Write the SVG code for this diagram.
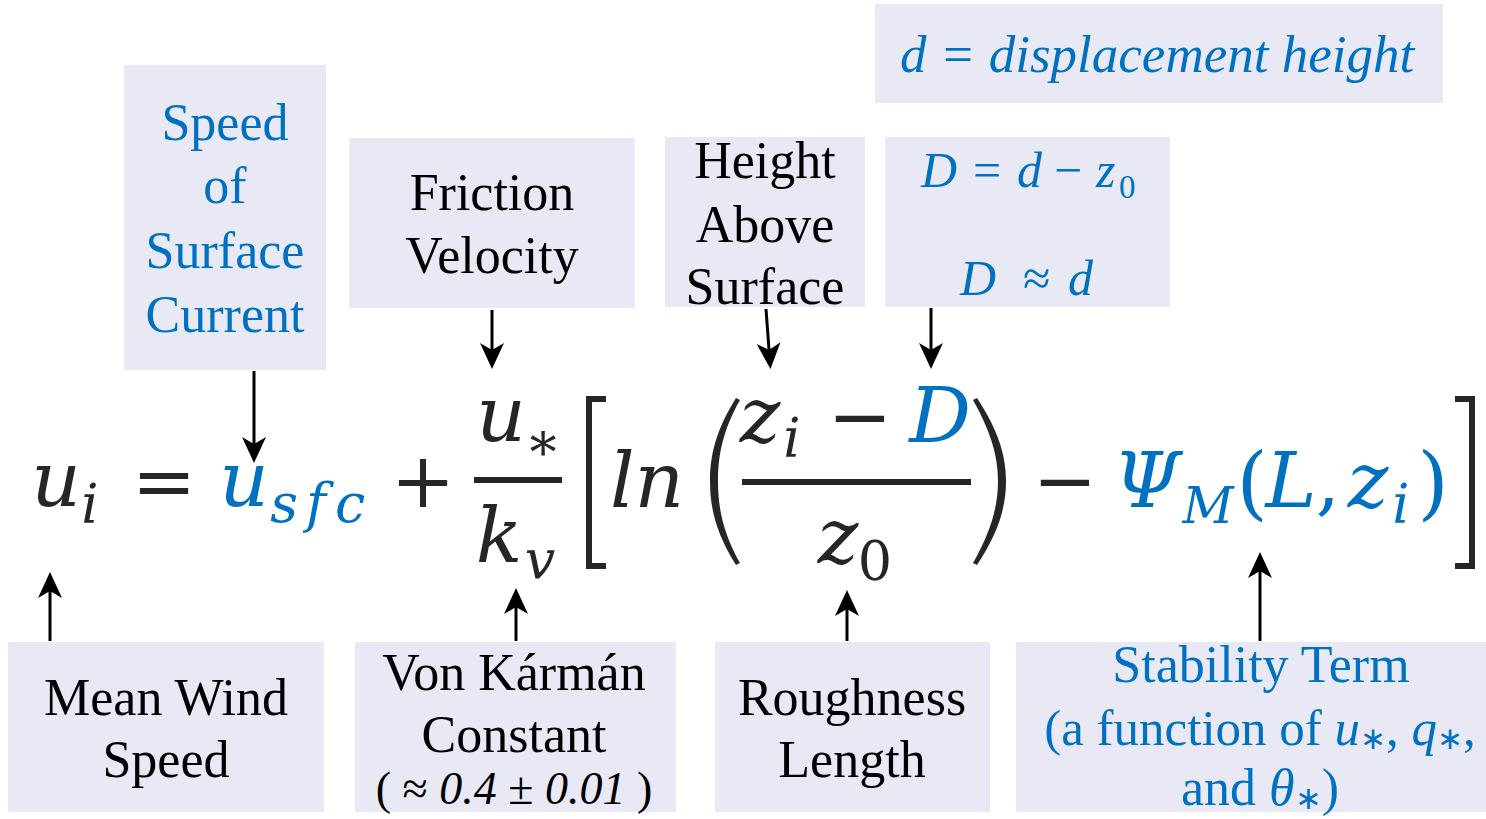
<svg xmlns="http://www.w3.org/2000/svg" width="1486" height="819" viewBox="0 0 1486 819">
<defs>
<style>
.box{fill:#E9E9F6}
.lbl{font-family:'Liberation Serif','Times New Roman',serif;font-size:52px;text-anchor:middle}
.blk{fill:#000}
.blu{fill:#0070C0}
.it{font-style:italic}
.m{font-family:'DejaVu Serif',serif;font-style:italic;font-size:77px;text-anchor:middle;fill:#262626}
.ms{font-size:54px}
.up{font-style:normal}
.mb{fill:#0070C0}
.conn line{stroke:#000;stroke-width:3;marker-end:url(#ah)}
.frac{fill:#262626}
</style>
<marker id="ah" markerUnits="userSpaceOnUse" markerWidth="26" markerHeight="24" refX="20" refY="12" orient="auto">
<path d="M0,0 L26,12 L0,24 L7,12 Z" fill="#000"/>
</marker>
</defs>
<rect width="1486" height="819" fill="#fff"/>

<g id="node-speed-surface-current">
<rect class="box" x="124" y="65" width="202" height="305"/>
<text class="lbl blu" x="225" y="140">Speed</text>
<text class="lbl blu" x="225" y="203">of</text>
<text class="lbl blu" x="225" y="268">Surface</text>
<text class="lbl blu" x="225" y="332">Current</text>
</g>

<g id="node-friction-velocity">
<rect class="box" x="349" y="138" width="286" height="170"/>
<text class="lbl blk" x="492" y="210">Friction</text>
<text class="lbl blk" x="492" y="273">Velocity</text>
</g>

<g id="node-height-above-surface">
<rect class="box" x="665" y="137" width="200" height="170"/>
<text class="lbl blk" x="765" y="178">Height</text>
<text class="lbl blk" x="765" y="242">Above</text>
<text class="lbl blk" x="765" y="304">Surface</text>
</g>

<g id="node-displacement-height">
<rect class="box" x="875" y="4" width="568" height="99"/>
<text class="lbl blu it" x="900" y="72" style="text-anchor:start;font-size:53px">d = displacement height</text>
</g>

<g id="node-D">
<rect class="box" x="885" y="137" width="285" height="170"/>
<g class="blu it" style="font-family:'Liberation Serif','Times New Roman',serif;font-size:50px">
<text x="921" y="187">D</text>
<text x="973" y="187" style="font-style:normal">=</text>
<text x="1017" y="187">d</text>
<text x="1054" y="187" style="font-style:normal">−</text>
<text x="1096" y="187">z</text>
<text x="1119" y="198" style="font-style:normal;font-size:33px">0</text>
<text x="960" y="295">D</text>
<text x="1023" y="295" style="font-style:normal">≈</text>
<text x="1068" y="295">d</text>
</g>
</g>

<g id="node-mean-wind-speed">
<rect class="box" x="8" y="642" width="316" height="170"/>
<text class="lbl blk" x="166" y="715">Mean Wind</text>
<text class="lbl blk" x="166" y="777">Speed</text>
</g>

<g id="node-von-karman">
<rect class="box" x="355" y="642" width="321" height="170"/>
<text class="lbl blk" x="514" y="690">Von Kármán</text>
<text class="lbl blk" x="514" y="752">Constant</text>
<text class="lbl blk" x="514" y="804" style="font-size:46px">( ≈ <tspan class="it">0.4</tspan> ± <tspan class="it">0.01</tspan> )</text>
</g>

<g id="node-roughness-length">
<rect class="box" x="715" y="642" width="275" height="170"/>
<text class="lbl blk" x="852" y="715">Roughness</text>
<text class="lbl blk" x="852" y="777">Length</text>
</g>

<g id="node-stability-term">
<rect class="box" x="1016" y="642" width="470" height="170"/>
<text class="lbl blu" x="1261" y="682">Stability Term</text>
<text class="lbl blu" x="1260" y="745" style="font-size:51px">(a function of <tspan class="it">u</tspan><tspan style="font-size:31px" dy="4">∗</tspan><tspan dy="-4">, </tspan><tspan class="it">q</tspan><tspan style="font-size:31px" dy="4">∗</tspan><tspan dy="-4">,</tspan></text>
<text class="lbl blu" x="1260" y="805">and <tspan class="it">θ</tspan><tspan style="font-size:32px" dy="4">∗</tspan><tspan dy="-4">)</tspan></text>
</g>

<g id="equation">
<text class="m" x="56" y="506">u</text>
<text class="m ms" x="90" y="523">i</text>
<text class="m up" x="164" y="507">=</text>
<text class="m mb" x="244" y="506">u</text>
<text class="m ms mb" x="284" y="522">s</text>
<text class="m ms mb" x="316" y="522">f</text>
<text class="m ms mb" x="350" y="522">c</text>
<text class="m up" x="423" y="507">+</text>
<text class="m" x="501" y="441">u</text>
<text class="m ms up" x="543" y="460">∗</text>
<rect class="frac" x="474" y="477" width="88" height="6"/>
<text class="m" x="499" y="562">k</text>
<text class="m ms" x="540" y="578">v</text>
<path d="M606,399 H589 V566 H606" fill="none" stroke="#262626" stroke-width="6"/>
<text class="m" x="647" y="507">ln</text>
<path d="M736,398 C716,430 710,455 710,481 C710,508 716,533 736,565 L740,563 C723,533 718,508 718,481 C718,455 723,430 740,400 Z" fill="#262626"/>
<text class="m" x="760" y="442">z</text>
<text class="m ms" x="792" y="457">i</text>
<text class="m up" x="860" y="443">−</text>
<text class="m mb" x="940" y="442">D</text>
<rect class="frac" x="742" y="479" width="229" height="6"/>
<text class="m" x="838" y="563">z</text>
<text class="m ms up" x="875" y="580">0</text>
<path d="M977,398 C998,430 1006,455 1006,481 C1006,508 998,533 977,565 L973,563 C990,533 998,508 998,481 C998,455 990,430 973,400 Z" fill="#262626"/>
<text class="m up" x="1065" y="507">−</text>
<text class="m mb" x="1147" y="507">Ψ</text>
<text class="m ms mb" x="1208" y="523" style="font-size:50px">M</text>
<text class="m mb up" x="1252" y="510" style="font-size:80px">(</text>
<text class="m mb" x="1291" y="507">L</text>
<text class="m mb up" x="1328" y="507">,</text>
<text class="m mb" x="1368" y="507">z</text>
<text class="m ms mb" x="1401" y="523">i</text>
<text class="m mb up" x="1433" y="510" style="font-size:80px">)</text>
<path d="M1455,399 H1472 V566 H1455" fill="none" stroke="#262626" stroke-width="6"/>
</g>

<g id="connectors" class="conn">
<line x1="254" y1="371" x2="254" y2="457"/>
<line x1="492" y1="310" x2="492" y2="363"/>
<line x1="766" y1="309" x2="770" y2="363"/>
<line x1="931" y1="308" x2="931" y2="363"/>
<line x1="50" y1="641" x2="50" y2="578"/>
<line x1="516" y1="641" x2="516" y2="594"/>
<line x1="847" y1="641" x2="847" y2="596"/>
<line x1="1260" y1="641" x2="1260" y2="558"/>
</g>
</svg>
